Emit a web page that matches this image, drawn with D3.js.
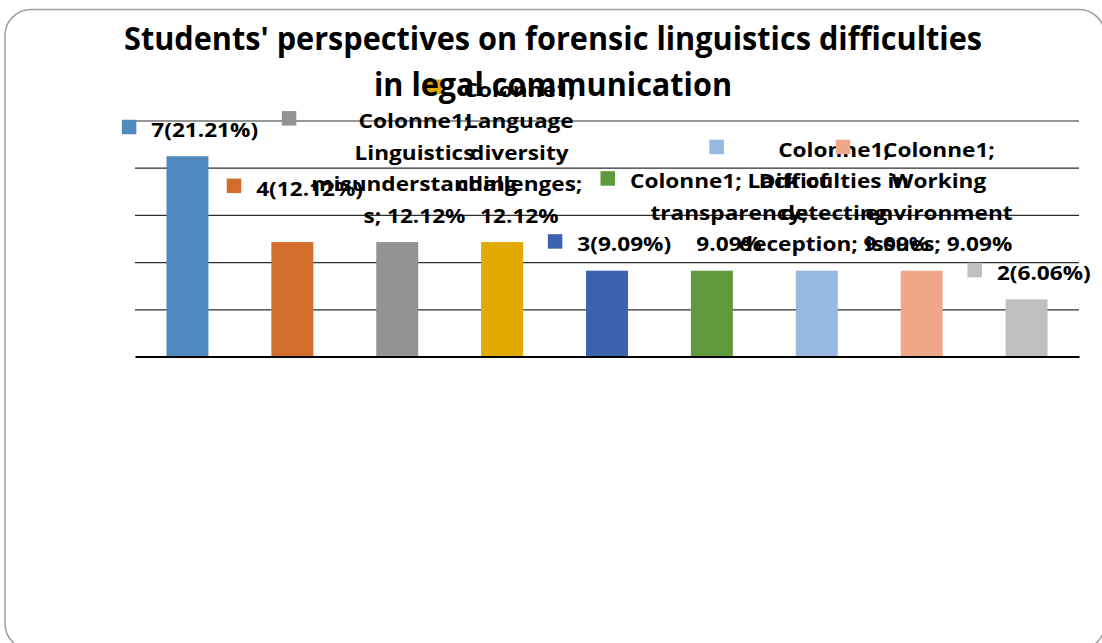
<!DOCTYPE html>
<html>
<head>
<meta charset="utf-8">
<script src="https://cdn.jsdelivr.net/npm/d3@7"></script>
<style>
  html, body { margin: 0; padding: 0; background: #fff; }
  svg { display: block; }
</style>
</head>
<body>
<svg id="chart" width="1102" height="643"></svg>
<script>
// Number of students naming each difficulty (33 answers in total)
const counts = [7, 4, 4, 4, 3, 3, 3, 3, 2];

// One fill per bar (varied colours of the single series)
const barColors = ["#4E8ABE", "#D36D2B", "#939393", "#E2AA00", "#3C64AE",
                   "#5F993D", "#97B9E0", "#F0A888", "#BFBFBF"];

const seriesName = "Colonne1";

// Wrapped data-label lines; "{p}" is replaced by the bar's percentage.
// null means the short "count(percent)" label.
const labelLines = [
  null,
  null,
  [seriesName + ";", "Linguistics", "misunderstanding", "s; {p}"],
  [seriesName + ";", "Language", "diversity", "challenges;", "{p}"],
  null,
  [seriesName + "; Lack of", "transparency;", "{p}"],
  [seriesName + ";", "Difficulties in", "detecting", "deception; {p}"],
  [seriesName + ";", "Working", "environment", "issues; {p}"],
  null
];

const titleLines = [
  "Students' perspectives on forensic linguistics difficulties",
  "in legal communication"
];

// Horizontal gridlines (share of answers)
const gridTicks = [0.05, 0.10, 0.15, 0.20, 0.25];

// ---------------------------------------------------------------
const W = 1102, H = 643;
const plot = { left: 135, right: 1079, top: 120.5, bottom: 356.5 };
const labelFont = "'Open Sans', 'DejaVu Sans', sans-serif";
const labelStretch = 1.13;   // widen glyphs to the label face's proportions

const total = d3.sum(counts);
const shares = counts.map(c => c / total);
const pctText = v => (v * 100).toFixed(2) + "%";

const svg = d3.select("#chart");

// Rounded frame around the chart
svg.append("rect")
  .attr("x", 5).attr("y", 9.5)
  .attr("width", 1100).attr("height", 640)
  .attr("rx", 26).attr("ry", 26)
  .attr("fill", "#fff")
  .attr("stroke", "#9e9e9e")
  .attr("stroke-width", 1.5);

const x = d3.scaleBand()
  .domain(d3.range(counts.length))
  .range([plot.left, plot.right])
  .paddingInner(0.6)
  .paddingOuter(0.3);

const y = d3.scaleLinear()
  .domain([0, 0.25])
  .range([plot.bottom, plot.top]);

// Gridlines
const grid = svg.append("g")
  .attr("transform", `translate(${plot.left},0)`)
  .call(d3.axisLeft(y)
    .tickValues(gridTicks)
    .tickSize(-(plot.right - plot.left))
    .tickFormat(""));
grid.select(".domain").remove();
grid.selectAll(".tick line")
  .attr("stroke", "#2e2e2e")
  .attr("stroke-width", 1.2);

// Bars
svg.append("g")
  .selectAll("rect")
  .data(shares)
  .join("rect")
  .attr("x", (d, i) => x(i))
  .attr("y", d => y(d))
  .attr("width", x.bandwidth())
  .attr("height", d => y(0) - y(d))
  .attr("fill", (d, i) => barColors[i]);

// Category axis line
const base = svg.append("g")
  .attr("transform", `translate(0,${y(0)})`)
  .call(d3.axisBottom(x).tickSize(0).tickFormat(""));
base.select(".domain")
  .attr("stroke", "#000")
  .attr("stroke-width", 2);

// Data labels with legend keys
const keySize = 14.5;      // square legend key
const keyToText = 29.5;    // key left edge to text left edge
const lineHeight = 31.5;
const gapAboveBar = 19.5;  // last baseline to bar top
const extraLift = [0, 27, 0, 0, 0, 0, 0, 0, 0];

const labels = svg.append("g")
  .attr("font-family", labelFont)
  .attr("font-weight", 700)
  .attr("font-size", 20)
  .attr("fill", "#000");

shares.forEach((v, i) => {
  const lines = labelLines[i]
    ? labelLines[i].map(s => s.replace("{p}", pctText(v)))
    : [counts[i] + "(" + pctText(v) + ")"];
  const g = labels.append("g");
  const t = g.append("text").attr("text-anchor", "middle");
  const tspans = lines.map(s => t.append("tspan").text(s));
  const widths = tspans.map(ts => ts.node().getComputedTextLength() * labelStretch);
  tspans.forEach((ts, k) => ts.attr("textLength", widths[k]).attr("lengthAdjust", "spacingAndGlyphs"));
  const maxW = d3.max(widths);

  const cx = x(i) + x.bandwidth() / 2 + 2.5;
  const blockLeft = cx - (keyToText + maxW) / 2;
  const textCenter = blockLeft + keyToText + maxW / 2;
  const lastBase = y(v) - gapAboveBar - extraLift[i];
  const firstBase = lastBase - (lines.length - 1) * lineHeight;

  tspans.forEach((ts, k) => {
    ts.attr("x", textCenter).attr("y", firstBase + k * lineHeight);
  });

  g.insert("rect", "text")
    .attr("x", blockLeft)
    .attr("y", firstBase - 17)
    .attr("width", keySize)
    .attr("height", keySize)
    .attr("fill", barColors[i]);
});

// Title
const title = svg.append("text")
  .attr("font-family", labelFont)
  .attr("font-weight", 700)
  .attr("font-size", 31.5)
  .attr("text-anchor", "middle")
  .attr("fill", "#000");
title.append("tspan").attr("x", 553).attr("y", 49.5)
  .attr("textLength", 858).attr("lengthAdjust", "spacingAndGlyphs")
  .text(titleLines[0]);
title.append("tspan").attr("x", 553).attr("y", 95.5)
  .attr("textLength", 358).attr("lengthAdjust", "spacingAndGlyphs")
  .text(titleLines[1]);
</script>
</body>
</html>
